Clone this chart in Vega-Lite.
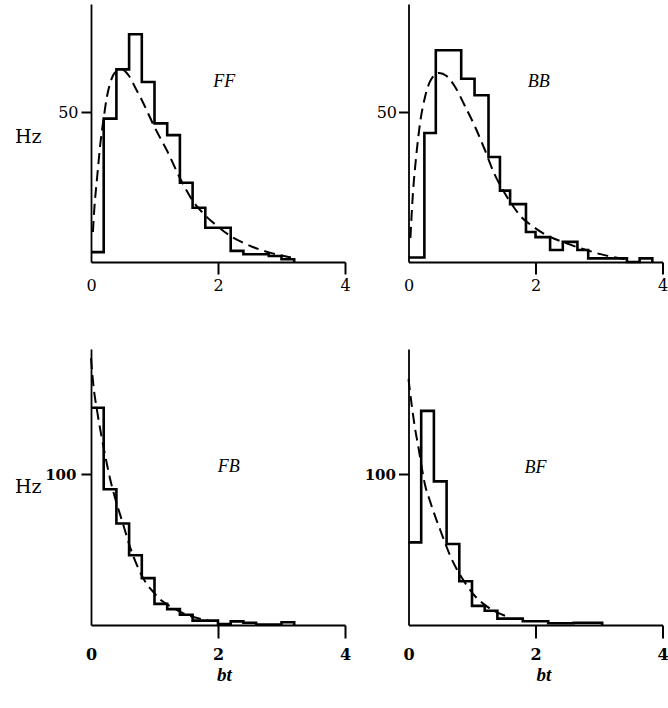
{
 "$schema": "https://vega.github.io/schema/vega-lite/v6.json",
 "padding": {"left": 14, "top": 4, "right": 0, "bottom": 0},
 "background": "white",
 "config": {"view": {"stroke": null}, "font": "Liberation Serif",
   "axis": {"grid": false, "domainColor": "black", "tickColor": "black", "labelColor": "black", "titleColor": "black", "labelFont": "DejaVu Serif", "titleFont": "DejaVu Serif", "labelFontSize": 16, "labelFlush": false, "labelOverlap": false}},
 "datasets": {"d": [
  {"p":"FF","k":"h","t":0,"v":3.3},{"p":"FF","k":"h","t":0.2,"v":47.8},{"p":"FF","k":"h","t":0.4,"v":64.2},{"p":"FF","k":"h","t":0.6,"v":75.9},{"p":"FF","k":"h","t":0.8,"v":60},{"p":"FF","k":"h","t":1.0,"v":46.2},{"p":"FF","k":"h","t":1.2,"v":42.3},{"p":"FF","k":"h","t":1.4,"v":26.4},{"p":"FF","k":"h","t":1.6,"v":18.1},{"p":"FF","k":"h","t":1.8,"v":11.4},{"p":"FF","k":"h","t":2.0,"v":11.4},{"p":"FF","k":"h","t":2.2,"v":3.7},{"p":"FF","k":"h","t":2.4,"v":2.6},{"p":"FF","k":"h","t":2.6,"v":2.6},{"p":"FF","k":"h","t":2.8,"v":2.0},{"p":"FF","k":"h","t":3.0,"v":0.9},{"p":"FF","k":"h","t":3.2,"v":0},
  {"p":"FF","k":"f","t":0.03,"v":10},{"p":"FF","k":"f","t":0.05,"v":17},{"p":"FF","k":"f","t":0.1,"v":29},{"p":"FF","k":"f","t":0.15,"v":40},{"p":"FF","k":"f","t":0.2,"v":48},{"p":"FF","k":"f","t":0.25,"v":55},{"p":"FF","k":"f","t":0.3,"v":59.5},{"p":"FF","k":"f","t":0.4,"v":63.5},{"p":"FF","k":"f","t":0.5,"v":64},{"p":"FF","k":"f","t":0.6,"v":62},{"p":"FF","k":"f","t":0.7,"v":58},{"p":"FF","k":"f","t":0.8,"v":54},{"p":"FF","k":"f","t":0.9,"v":49.5},{"p":"FF","k":"f","t":1.0,"v":45},{"p":"FF","k":"f","t":1.2,"v":37},{"p":"FF","k":"f","t":1.4,"v":28},{"p":"FF","k":"f","t":1.6,"v":20.5},{"p":"FF","k":"f","t":1.8,"v":15.5},{"p":"FF","k":"f","t":2.0,"v":11.8},{"p":"FF","k":"f","t":2.2,"v":8.6},{"p":"FF","k":"f","t":2.4,"v":6.4},{"p":"FF","k":"f","t":2.6,"v":4.6},{"p":"FF","k":"f","t":2.8,"v":3.2},{"p":"FF","k":"f","t":3.0,"v":2.2},{"p":"FF","k":"f","t":3.15,"v":1.5},
  {"p":"FF","k":"l","t":2.1,"v":60,"lab":"FF"},
  {"p":"BB","k":"h","t":0,"v":1.5},{"p":"BB","k":"h","t":0.25,"v":43},{"p":"BB","k":"h","t":0.43,"v":70.6},{"p":"BB","k":"h","t":0.83,"v":61.1},{"p":"BB","k":"h","t":1.04,"v":55.6},{"p":"BB","k":"h","t":1.26,"v":35},{"p":"BB","k":"h","t":1.44,"v":23.8},{"p":"BB","k":"h","t":1.6,"v":19.3},{"p":"BB","k":"h","t":1.85,"v":10},{"p":"BB","k":"h","t":2.0,"v":8.3},{"p":"BB","k":"h","t":2.23,"v":4},{"p":"BB","k":"h","t":2.43,"v":6.7},{"p":"BB","k":"h","t":2.66,"v":4},{"p":"BB","k":"h","t":2.83,"v":1.2},{"p":"BB","k":"h","t":3.44,"v":0},{"p":"BB","k":"h","t":3.64,"v":1.2},{"p":"BB","k":"h","t":3.84,"v":0},
  {"p":"BB","k":"f","t":0.03,"v":8},{"p":"BB","k":"f","t":0.07,"v":23},{"p":"BB","k":"f","t":0.12,"v":35},{"p":"BB","k":"f","t":0.18,"v":46},{"p":"BB","k":"f","t":0.26,"v":55},{"p":"BB","k":"f","t":0.36,"v":61},{"p":"BB","k":"f","t":0.48,"v":63},{"p":"BB","k":"f","t":0.6,"v":62},{"p":"BB","k":"f","t":0.73,"v":58.5},{"p":"BB","k":"f","t":0.9,"v":51.5},{"p":"BB","k":"f","t":1.05,"v":45},{"p":"BB","k":"f","t":1.2,"v":37.5},{"p":"BB","k":"f","t":1.35,"v":29.5},{"p":"BB","k":"f","t":1.5,"v":23.5},{"p":"BB","k":"f","t":1.65,"v":18.5},{"p":"BB","k":"f","t":1.8,"v":14.5},{"p":"BB","k":"f","t":1.95,"v":12},{"p":"BB","k":"f","t":2.15,"v":9.2},{"p":"BB","k":"f","t":2.45,"v":6.5},{"p":"BB","k":"f","t":2.8,"v":4},{"p":"BB","k":"f","t":3.1,"v":2.2},{"p":"BB","k":"f","t":3.4,"v":1},
  {"p":"BB","k":"l","t":2.05,"v":60,"lab":"BB"},
  {"p":"FB","k":"h","t":0,"v":144},{"p":"FB","k":"h","t":0.2,"v":90},{"p":"FB","k":"h","t":0.4,"v":67.3},{"p":"FB","k":"h","t":0.6,"v":46.2},{"p":"FB","k":"h","t":0.8,"v":31.1},{"p":"FB","k":"h","t":1.0,"v":14},{"p":"FB","k":"h","t":1.2,"v":10.5},{"p":"FB","k":"h","t":1.4,"v":6.8},{"p":"FB","k":"h","t":1.6,"v":2.9},{"p":"FB","k":"h","t":2.0,"v":0.7},{"p":"FB","k":"h","t":2.2,"v":2.4},{"p":"FB","k":"h","t":2.4,"v":1.5},{"p":"FB","k":"h","t":2.6,"v":0.3},{"p":"FB","k":"h","t":3.0,"v":1.8},{"p":"FB","k":"h","t":3.2,"v":0},
  {"p":"FB","k":"f","t":0,"v":177},{"p":"FB","k":"f","t":0.035,"v":160},{"p":"FB","k":"f","t":0.1,"v":141},{"p":"FB","k":"f","t":0.17,"v":124},{"p":"FB","k":"f","t":0.23,"v":111},{"p":"FB","k":"f","t":0.3,"v":97},{"p":"FB","k":"f","t":0.38,"v":84},{"p":"FB","k":"f","t":0.46,"v":73},{"p":"FB","k":"f","t":0.54,"v":62},{"p":"FB","k":"f","t":0.62,"v":51},{"p":"FB","k":"f","t":0.72,"v":40},{"p":"FB","k":"f","t":0.85,"v":29},{"p":"FB","k":"f","t":0.98,"v":22},{"p":"FB","k":"f","t":1.1,"v":16.5},{"p":"FB","k":"f","t":1.27,"v":12},{"p":"FB","k":"f","t":1.48,"v":7.3},{"p":"FB","k":"f","t":1.7,"v":4.3},{"p":"FB","k":"f","t":1.85,"v":3},
  {"p":"FB","k":"l","t":2.17,"v":104.6,"lab":"FB"},
  {"p":"BF","k":"h","t":0,"v":54.8},{"p":"BF","k":"h","t":0.2,"v":142},{"p":"BF","k":"h","t":0.4,"v":95.2},{"p":"BF","k":"h","t":0.6,"v":53.7},{"p":"BF","k":"h","t":0.8,"v":29},{"p":"BF","k":"h","t":1.0,"v":12.7},{"p":"BF","k":"h","t":1.2,"v":9.4},{"p":"BF","k":"h","t":1.4,"v":4.2},{"p":"BF","k":"h","t":1.8,"v":2.5},{"p":"BF","k":"h","t":2.2,"v":1.2},{"p":"BF","k":"h","t":2.6,"v":1.5},{"p":"BF","k":"h","t":3.05,"v":0},
  {"p":"BF","k":"f","t":0,"v":163},{"p":"BF","k":"f","t":0.05,"v":146},{"p":"BF","k":"f","t":0.1,"v":131},{"p":"BF","k":"f","t":0.16,"v":117},{"p":"BF","k":"f","t":0.21,"v":104},{"p":"BF","k":"f","t":0.26,"v":93},{"p":"BF","k":"f","t":0.34,"v":82},{"p":"BF","k":"f","t":0.42,"v":72},{"p":"BF","k":"f","t":0.5,"v":63},{"p":"BF","k":"f","t":0.58,"v":54},{"p":"BF","k":"f","t":0.66,"v":45.5},{"p":"BF","k":"f","t":0.76,"v":37},{"p":"BF","k":"f","t":0.89,"v":28},{"p":"BF","k":"f","t":1.02,"v":20.5},{"p":"BF","k":"f","t":1.18,"v":14},{"p":"BF","k":"f","t":1.34,"v":9.5},{"p":"BF","k":"f","t":1.53,"v":6},
  {"p":"BF","k":"l","t":2.0,"v":104,"lab":"BF"}
 ]},
 "columns": 2,
 "bounds": "flush",
 "align": "each",
 "spacing": {"row": 87, "column": 63.5},
 "concat": [
  {"width": 254, "height": 258, "data": {"name": "d"}, "transform": [{"filter": "datum.p === 'FF'"}],
   "encoding": {
    "x": {"field": "t", "type": "quantitative", "scale": {"domain": [0, 4], "nice": false}, "axis": {"values": [0, 2, 4], "format": "d", "title": null, "labelFont": "DejaVu Serif", "labelFontSize": 16, "domainWidth": 2, "tickSize": 12, "tickWidth": 2, "tickOpacity": {"condition": {"test": "datum.value === 0", "value": 0}, "value": 1}, "labelPadding": 3}},
    "y": {"field": "v", "type": "quantitative", "scale": {"domain": [0, 86], "nice": false}, "axis": {"values": [50], "title": "Hz", "titleAngle": 0, "titleX": -50, "titleY": 132, "titleAlign": "right", "titleBaseline": "middle", "titleFont": "DejaVu Serif", "titleFontSize": 19, "titleFontWeight": "normal", "labelFont": "DejaVu Serif", "labelFontSize": 16, "domainWidth": 1.8, "tickSize": 10, "tickWidth": 2, "labelPadding": 3}}
   },
   "layer": [
    {"transform": [{"filter": "datum.k === 'h'"}], "mark": {"type": "line", "interpolate": "step-after", "color": "black", "strokeWidth": 2.6}},
    {"transform": [{"filter": "datum.k === 'f'"}], "mark": {"type": "line", "interpolate": "monotone", "color": "black", "strokeWidth": 2, "strokeDash": [11, 6]}},
    {"transform": [{"filter": "datum.k === 'l'"}], "mark": {"type": "text", "font": "Liberation Serif", "fontStyle": "italic", "fontSize": 18, "color": "black"}, "encoding": {"text": {"field": "lab"}}}
   ]},
  {"width": 254, "height": 258, "data": {"name": "d"}, "transform": [{"filter": "datum.p === 'BB'"}],
   "encoding": {
    "x": {"field": "t", "type": "quantitative", "scale": {"domain": [0, 4], "nice": false}, "axis": {"values": [0, 2, 4], "format": "d", "title": null, "labelFont": "DejaVu Serif", "labelFontSize": 16, "domainWidth": 2, "tickSize": 12, "tickWidth": 2, "tickOpacity": {"condition": {"test": "datum.value === 0", "value": 0}, "value": 1}, "labelPadding": 3}},
    "y": {"field": "v", "type": "quantitative", "scale": {"domain": [0, 86], "nice": false}, "axis": {"values": [50], "title": null, "labelFont": "DejaVu Serif", "labelFontSize": 16, "domainWidth": 1.8, "tickSize": 10, "tickWidth": 2, "labelPadding": 2}}
   },
   "layer": [
    {"transform": [{"filter": "datum.k === 'h'"}], "mark": {"type": "line", "interpolate": "step-after", "color": "black", "strokeWidth": 2.6}},
    {"transform": [{"filter": "datum.k === 'f'"}], "mark": {"type": "line", "interpolate": "monotone", "color": "black", "strokeWidth": 2, "strokeDash": [11, 6]}},
    {"transform": [{"filter": "datum.k === 'l'"}], "mark": {"type": "text", "font": "Liberation Serif", "fontStyle": "italic", "fontSize": 18, "color": "black"}, "encoding": {"text": {"field": "lab"}}}
   ]},
  {"width": 254, "height": 276, "data": {"name": "d"}, "transform": [{"filter": "datum.p === 'FB'"}],
   "encoding": {
    "x": {"field": "t", "type": "quantitative", "scale": {"domain": [0, 4], "nice": false}, "axis": {"values": [0, 2, 4], "format": "d", "title": "bt", "titleFont": "Liberation Serif", "titleFontStyle": "italic", "titleFontSize": 19, "titleFontWeight": "bold", "titleX": 133, "titleY": 49, "titleAlign": "center", "titleBaseline": "middle", "labelFont": "DejaVu Serif", "labelFontSize": 16, "labelFontWeight": "bold", "domainWidth": 2, "tickSize": 13, "tickWidth": 2, "tickOpacity": {"condition": {"test": "datum.value === 0", "value": 0}, "value": 1}, "labelPadding": 8}},
    "y": {"field": "v", "type": "quantitative", "scale": {"domain": [0, 183], "nice": false}, "axis": {"values": [100], "title": "Hz", "titleAngle": 0, "titleX": -50, "titleY": 137, "titleAlign": "right", "titleBaseline": "middle", "titleFont": "DejaVu Serif", "titleFontSize": 19, "titleFontWeight": "normal", "labelFont": "DejaVu Serif", "labelFontSize": 15, "labelFontWeight": "bold", "domainWidth": 1.8, "tickSize": 10, "tickWidth": 2, "labelPadding": 5}}
   },
   "layer": [
    {"transform": [{"filter": "datum.k === 'h'"}], "mark": {"type": "line", "interpolate": "step-after", "color": "black", "strokeWidth": 2.6}},
    {"transform": [{"filter": "datum.k === 'f'"}], "mark": {"type": "line", "interpolate": "monotone", "color": "black", "strokeWidth": 2, "strokeDash": [11, 6]}},
    {"transform": [{"filter": "datum.k === 'l'"}], "mark": {"type": "text", "font": "Liberation Serif", "fontStyle": "italic", "fontSize": 18, "color": "black"}, "encoding": {"text": {"field": "lab"}}}
   ]},
  {"width": 254, "height": 276, "data": {"name": "d"}, "transform": [{"filter": "datum.p === 'BF'"}],
   "encoding": {
    "x": {"field": "t", "type": "quantitative", "scale": {"domain": [0, 4], "nice": false}, "axis": {"values": [0, 2, 4], "format": "d", "title": "bt", "titleFont": "Liberation Serif", "titleFontStyle": "italic", "titleFontSize": 19, "titleFontWeight": "bold", "titleX": 135, "titleY": 49, "titleAlign": "center", "titleBaseline": "middle", "labelFont": "DejaVu Serif", "labelFontSize": 16, "labelFontWeight": "bold", "domainWidth": 2, "tickSize": 13, "tickWidth": 2, "tickOpacity": {"condition": {"test": "datum.value === 0", "value": 0}, "value": 1}, "labelPadding": 8}},
    "y": {"field": "v", "type": "quantitative", "scale": {"domain": [0, 183], "nice": false}, "axis": {"values": [100], "title": null, "labelFont": "DejaVu Serif", "labelFontSize": 15, "labelFontWeight": "bold", "domainWidth": 1.8, "tickSize": 10, "tickWidth": 2, "labelPadding": 3}}
   },
   "layer": [
    {"transform": [{"filter": "datum.k === 'h'"}], "mark": {"type": "line", "interpolate": "step-after", "color": "black", "strokeWidth": 2.6}},
    {"transform": [{"filter": "datum.k === 'f'"}], "mark": {"type": "line", "interpolate": "monotone", "color": "black", "strokeWidth": 2, "strokeDash": [11, 6]}},
    {"transform": [{"filter": "datum.k === 'l'"}], "mark": {"type": "text", "font": "Liberation Serif", "fontStyle": "italic", "fontSize": 18, "color": "black"}, "encoding": {"text": {"field": "lab"}}}
   ]}
 ]
}
